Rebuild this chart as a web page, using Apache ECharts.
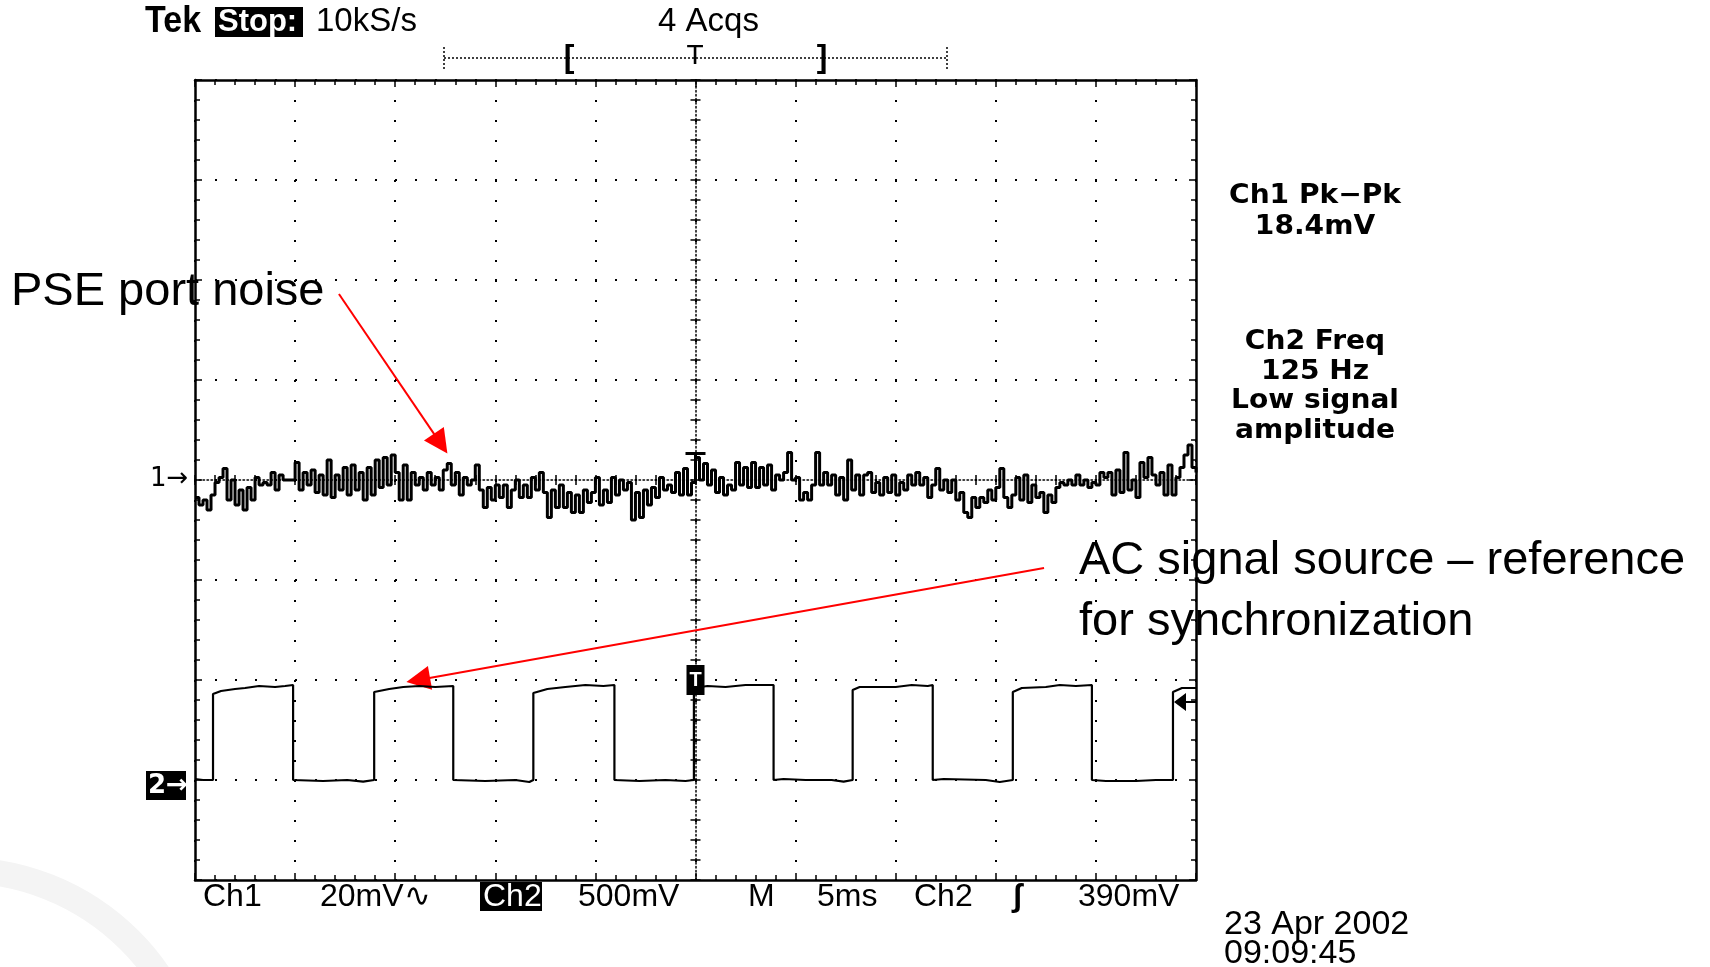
<!DOCTYPE html>
<html>
<head>
<meta charset="utf-8">
<title>PSE port noise</title>
<script src="https://cdn.jsdelivr.net/npm/echarts@6.0.0/dist/echarts.min.js"></script>
<style>
  html, body { margin: 0; padding: 0; background: #fff; }
  #chart { width: 1710px; height: 967px; }
</style>
</head>
<body>
<div id="chart"></div>
<script>
// horizontal: 5 ms/div, 10 div ; vertical: 8 div
const timeMin = -25;
const timeMax = 25;
const timePerDiv = 5;
const divMin = -4;
const divMax = 4;

// Ch1: 20 mV/div, ground on the centre line, one sample every 0.2 ms
const ch1VoltsPerDiv = 20;
const ch1Offset = 0;
const ch1Start = -25;
const ch1Step = 0.2;
const ch1MilliVolts = [
  -3.5, -5, -4, -6, -3, -0.5, 0.5, 2.3, -4, 0,
  -5, -2, -6, -1.5, -4, 0.5, -1, -0.5, -1, 1.5,
  -2, 1, 0, 0, 0, 3.5, -2, 1.5, -1, 2,
  -2.5, 1, -3, 4, -3.5, 1, -2, 2.5, -3, 3,
  -2, 1.5, -4, 2.5, -3, 4, -1.5, 4.5, -1, 5,
  1.5, -4, 3, -4, 1.5, -1, 0.5, -2, 1.5, -1,
  0.5, -2, 2, 3.3, -1, 1.5, -3, 0.5, -1, 0,
  3, -2, -5.5, -1.5, -4, -1, -3.5, -1, -5.5, -2,
  0, -3.5, -1, -3.5, 0.5, -2, 1.5, -2.5, -7.5, -2,
  -5.5, -1, -5.5, -2.5, -6.5, -3, -6.5, -2, -4.5, -2.5,
  0.5, -5, -2, -4.5, 0.5, -3, 0, -2, -0.5, -8,
  -2.5, -7.5, -2, -5, -1.5, -3.5, 0.5, -2, -1, -2.5,
  1.5, -3, 2.3, -3, -0.5, 4.5, 0, 3.3, -1, 2,
  -2.5, 0.5, -3, -1, -2, 3.5, -1, 2.5, -1.5, 3.5,
  -1.5, 2.5, -1, 3, -2, 1, 0, 1.5, 5.5, 0,
  0.5, -4, -2.5, -4, -1, 5.5, -1, 1.5, -1, 1,
  -3, 0.5, -4, 4, -2, 1, -3, 1, 1.5, -2.5,
  -0.5, -3, 0.5, -2.5, 1, -3, -0.5, -2, 1, -1,
  1.5, -1, 0.5, -3.5, -1, 2.3, -2, 0, -2.5, 0,
  -4, -2.5, -6.5, -7.5, -3.5, -5.5, -3.5, -4.5, -2, -4,
  -1.5, 2.3, -3.5, -5.5, -3, 0.5, -4, 1, -4.5, -1,
  -3.5, -2.5, -6.5, -3, -4.5, -1.5, -0.5, -1, 0, -1,
  1, -1, 0, -1.5, -0.5, -1, 1.5, 0.5, 1.5, -3,
  2, -2.5, 5.5, -2, 0, -3.5, 3.5, 0.5, 4.5, 1,
  -1, 1.5, -3, 3, -3, 0.5, 2.5, 5, 7, 2.5, 1.5
];

// Ch2: 500 mV/div, ground 3 div below centre
const ch2VoltsPerDiv = 500;
const ch2Offset = -3;
const ch2Time = [
  -25, -24.6, -24.1, -24.1, -23.7, -23.0, -22.5, -21.8, -21.0, -20.5, -20.1, -20.1, -18.6, -17.4, -16.6, -16.05,
  -16.05, -15.3, -14.6, -13.8, -13.0, -12.1, -12.1, -10.5, -9.0, -8.3, -8.1,
  -8.1, -7.4, -6.5, -5.5, -4.6, -4.05, -4.05, -2.8, -1.5, -0.5, -0.08,
  -0.08, 0.6, 1.5, 2.5, 3.9, 3.9, 4.4, 5.5, 6.8, 7.4, 7.85,
  7.85, 8.2, 10.0, 10.8, 11.6, 11.85, 11.85, 12.4, 14.5, 15.2, 15.85,
  15.85, 16.3, 17.5, 18.2, 19.0, 19.8, 19.8, 20.5, 22.0, 23.0, 23.85,
  23.85, 24.3, 25
];
const ch2MilliVolts = [
  5, 0, 0, 430, 445, 455, 460, 470, 465, 470, 475, 0, -5, 0, -8, 0,
  440, 455, 465, 470, 465, 470, 0, -5, 0, -10, 0,
  435, 455, 465, 475, 470, 475, 0, -5, 0, -5, 0,
  460, 470, 465, 475, 475, 0, 5, 0, 0, -8, 0,
  450, 465, 465, 475, 470, 475, 0, 5, 0, -10, 0,
  440, 460, 465, 475, 470, 475, 0, -5, -5, 0, 0,
  440, 460, 460
];
const triggerLevelMv = 390;

// red annotation arrows, [start, end] in [ms, div]
const noiseArrow = [[-17.81, 1.86], [-12.73, 0.364]];
const sourceArrow = [[17.41, -0.88], [-13.85, -2.0]];

const ch1Data = ch1MilliVolts.map((mv, i) => [ch1Start + i * ch1Step, ch1Offset + mv / ch1VoltsPerDiv]);
const ch2Data = ch2Time.map((t, i) => [t, ch2Offset + ch2MilliVolts[i] / ch2VoltsPerDiv]);

const gridRect = { left: 195, top: 80, width: 1001, height: 800, containLabel: false, outerBoundsMode: 'none' };
const tickStyle = { color: '#000', width: 1.5 };

function frameAxis(dim, position, withSplit) {
  const isX = dim === 'x';
  return {
    type: 'value',
    gridIndex: 0,
    position: position,
    min: isX ? timeMin : divMin,
    max: isX ? timeMax : divMax,
    interval: isX ? timePerDiv : 1,
    axisLine: { show: true, onZero: false, lineStyle: { color: '#000', width: 2.5 } },
    axisTick: { show: true, inside: true, length: 7, lineStyle: tickStyle },
    minorTick: { show: true, splitNumber: 5, length: 5, lineStyle: tickStyle },
    axisLabel: { show: false },
    splitLine: { show: withSplit, lineStyle: { color: '#000', width: 2, type: [2, 18] } },
    minorSplitLine: { show: false }
  };
}

// centre cross, drawn on two stacked grids so the ticks stick out on both sides
function centreAxis(dim, gridIndex, inside, showLine) {
  const isX = dim === 'x';
  return {
    type: 'value',
    gridIndex: gridIndex,
    min: isX ? timeMin : divMin,
    max: isX ? timeMax : divMax,
    interval: isX ? timePerDiv : 1,
    axisLine: { show: showLine, onZero: true, lineStyle: { color: '#000', width: 1.5, type: [1.5, 2.5] } },
    axisTick: { show: true, inside: inside, length: 5, lineStyle: tickStyle },
    minorTick: { show: true, splitNumber: 5, length: 5, lineStyle: tickStyle },
    axisLabel: { show: false },
    splitLine: { show: false }
  };
}

const scopeFont = '"Liberation Sans", Arial, sans-serif';
const readoutFont = '"DejaVu Sans", Verdana, sans-serif';

function txt(text, x, y, size, style, props) {
  return Object.assign({
    type: 'text', x: x, y: y, z: 100, silent: true,
    style: Object.assign({
      text: text, fontSize: size, fontFamily: scopeFont, fill: '#000',
      align: 'left', verticalAlign: 'middle'
    }, style || {})
  }, props || {});
}
function box(x, y, w, h) {
  return { type: 'rect', z: 99, silent: true, shape: { x: x, y: y, width: w, height: h }, style: { fill: '#000' } };
}
function dotted(x1, y1, x2, y2) {
  return { type: 'line', z: 99, silent: true, shape: { x1: x1, y1: y1, x2: x2, y2: y2 },
    style: { stroke: '#000', lineWidth: 1.5, lineDash: [2, 2] } };
}
function readout(text, y) {
  return txt(text, 1315, y, 27, { fontFamily: readoutFont, fontWeight: 'bold', align: 'center' }, { scaleX: 1.04 });
}

const graphics = [
  // faint logo swoosh
  { type: 'arc', z: 1, silent: true, shape: { cx: -40, cy: 1110, r: 240, startAngle: -Math.PI / 2, endAngle: 0 },
    style: { stroke: '#f4f4f4', lineWidth: 26, fill: null } },

  txt('Tek', 145, 22, 34, { fontWeight: 'bold' }, { scaleY: 1.1 }),
  box(215, 7, 88, 30),
  txt('Stop:', 218, 22, 31, { fontWeight: 'bold', fill: '#fff' }),
  txt('10kS/s', 316, 22, 33),
  txt('4 Acqs', 658, 22, 33),

  dotted(444, 58, 947, 58),
  dotted(444, 47, 444, 70),
  dotted(947, 47, 947, 70),
  txt('[', 569, 58, 32, { fontWeight: 'bold', align: 'center' }),
  txt('T', 695, 56, 28, { align: 'center' }),
  txt(']', 822, 58, 32, { fontWeight: 'bold', align: 'center' }),

  txt('1\u2192', 150, 479, 26, { fontFamily: readoutFont }),
  box(146, 771, 40, 29),
  txt('2\u2192', 148, 786, 26, { fontFamily: readoutFont, fontWeight: 'bold', fill: '#fff' }),

  txt('Ch1', 203, 897, 32),
  txt('20mV\u223f', 320, 897, 32),
  box(480, 882, 62, 29),
  txt('Ch2', 483, 897, 32, { fill: '#fff' }),
  txt('500mV', 578, 897, 32),
  txt('M', 748, 897, 32),
  txt('5ms', 817, 897, 32),
  txt('Ch2', 914, 897, 32),
  txt('\u0283', 1012, 897, 32, { fontWeight: 'bold' }),
  txt('390mV', 1078, 897, 32),

  txt('23 Apr 2002', 1224, 925, 34),
  txt('09:09:45', 1224, 954, 34),

  readout('Ch1 Pk\u2212Pk', 196),
  readout('18.4mV', 227),
  readout('Ch2 Freq', 342),
  readout('125 Hz', 372),
  readout('Low signal', 401),
  readout('amplitude', 431),

  txt('PSE port noise', 11, 292, 47),
  txt('AC signal source \u2013 reference', 1079, 561, 47),
  txt('for synchronization', 1079, 622, 47)
];

const chart = echarts.init(document.getElementById('chart'));

const option = {
  animation: false,
  backgroundColor: '#fff',
  grid: [gridRect, gridRect, gridRect],
  xAxis: [
    frameAxis('x', 'bottom', true),
    frameAxis('x', 'top', false),
    centreAxis('x', 1, true, true),
    centreAxis('x', 2, false, false)
  ],
  yAxis: [
    frameAxis('y', 'left', true),
    frameAxis('y', 'right', false),
    centreAxis('y', 1, true, true),
    centreAxis('y', 2, false, false)
  ],
  graphic: { elements: graphics },
  series: [
    {
      name: 'Ch1',
      type: 'line',
      xAxisIndex: 0,
      yAxisIndex: 0,
      data: ch1Data,
      step: 'end',
      symbol: 'none',
      silent: true,
      z: 5,
      lineStyle: { color: '#000', width: 3 },
      markPoint: {
        silent: true,
        label: { show: false },
        data: [{
          coord: [0, 0.21],
          symbol: 'path://M0,0 L20,0 L20,3 L11.5,3 L11.5,14 L8.5,14 L8.5,3 L0,3 Z',
          symbolSize: [20, 14],
          itemStyle: { color: '#000' }
        }]
      },
      markLine: {
        silent: true,
        animation: false,
        symbol: ['none', 'triangle'],
        symbolSize: 24,
        label: { show: false },
        emphasis: { disabled: true },
        lineStyle: { color: '#ff0000', width: 2, type: 'solid' },
        itemStyle: { color: '#ff0000' },
        data: [
          [{ coord: noiseArrow[0] }, { coord: noiseArrow[1] }],
          [{ coord: sourceArrow[0] }, { coord: sourceArrow[1] }]
        ]
      }
    },
    {
      name: 'Ch2',
      type: 'line',
      xAxisIndex: 0,
      yAxisIndex: 0,
      data: ch2Data,
      symbol: 'none',
      silent: true,
      z: 5,
      lineStyle: { color: '#000', width: 2.2 },
      markPoint: {
        silent: true,
        data: [
          {
            coord: [0, -2.0],
            symbol: 'rect',
            symbolSize: [18, 30],
            itemStyle: { color: '#000' },
            label: { show: true, position: 'inside', formatter: 'T', color: '#fff', fontSize: 20, fontWeight: 'bold', fontFamily: scopeFont }
          },
          {
            coord: [timeMax, ch2Offset + triggerLevelMv / ch2VoltsPerDiv],
            symbol: 'path://M0,9 L12,0 L12,8 L22,8 L22,10 L12,10 L12,18 Z',
            symbolSize: [22, 18],
            symbolOffset: [-11, 0],
            itemStyle: { color: '#000' },
            label: { show: false }
          }
        ]
      }
    }
  ]
};

chart.setOption(option);
window.addEventListener('resize', () => chart.resize());
</script>
</body>
</html>
